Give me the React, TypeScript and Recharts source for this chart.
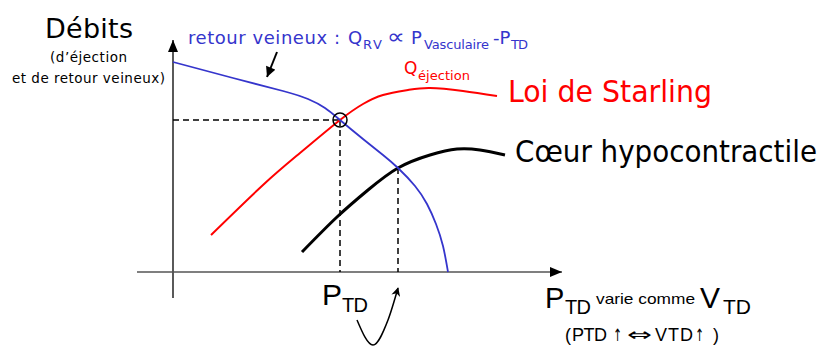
import React from 'react';
import { LineChart, Line, XAxis, YAxis, ReferenceDot } from 'recharts';

// Diagram coordinates: x = pressure (P_TD), y = flow (débit)
const venousReturn = [
  { x: 0, y: 210 }, { x: 60, y: 194 }, { x: 110, y: 181 }, { x: 135, y: 173 },
  { x: 152, y: 164 }, { x: 167, y: 152 }, { x: 190, y: 133 }, { x: 210, y: 117 },
  { x: 225, y: 104 }, { x: 242, y: 86 }, { x: 254, y: 68 }, { x: 263, y: 48 },
  { x: 270, y: 26 }, { x: 275, y: 0 },
];
const starlingNormal = [
  { x: 38, y: 37 }, { x: 90, y: 87 }, { x: 127, y: 119 }, { x: 167, y: 152 },
  { x: 190, y: 168 }, { x: 210, y: 177 }, { x: 235, y: 182 }, { x: 257, y: 184 },
  { x: 290, y: 181 }, { x: 324, y: 176 },
];
const hypocontractile = [
  { x: 129, y: 20 }, { x: 164, y: 55 }, { x: 195, y: 82 }, { x: 225, y: 104 },
  { x: 257, y: 117 }, { x: 284, y: 123 }, { x: 307, y: 122 }, { x: 332, y: 117 },
];
const yAxisLine = [{ x: 0, y: -26 }, { x: 0, y: 232 }];
const xAxisLine = [{ x: -36, y: 0 }, { x: 389, y: 0 }];
const eqDashH = [{ x: 0, y: 152 }, { x: 167, y: 152 }];
const eqDashV = [{ x: 167, y: 152 }, { x: 167, y: 0 }];
const newEqDashV = [{ x: 225, y: 104 }, { x: 225, y: 0 }];
const labelArrow = [{ x: 104, y: 220 }, { x: 94, y: 195 }];
const shiftArrow = [{ x: 184, y: -48 }, { x: 200, y: -73 }, { x: 215, y: -48 }, { x: 225, y: -16 }];
const equilibrium = { x: 167, y: 152 };

const BLUE = '#3535cc';
const RED = '#ff0000';

const W = 826;
const H = 347;

export default function App() {
  const noDot = { dot: false, activeDot: false, isAnimationActive: false } as const;
  return (
    <div style={{ position: 'absolute', left: 0, top: 0, width: W, height: H, background: '#fff' }}>
      <svg width={0} height={0} style={{ position: 'absolute' }}>
        <defs>
          <marker id="axArrow" viewBox="0 0 12 10" refX={12} refY={5} markerWidth={12} markerHeight={10} markerUnits="userSpaceOnUse" orient="auto">
            <path d="M0,0 L12,5 L0,10 z" fill="#000" />
          </marker>
          <marker id="smArrow" viewBox="0 0 10 10" refX={10} refY={5} markerWidth={11} markerHeight={10} markerUnits="userSpaceOnUse" orient="auto">
            <path d="M0,0 L10,5 L0,10 z" fill="#000" />
          </marker>
          <marker id="curvArrow" viewBox="0 0 10 10" refX={9} refY={5} markerWidth={9} markerHeight={9} markerUnits="userSpaceOnUse" orient="auto">
            <path d="M0,0 L10,5 L0,10 L3,5 z" fill="#000" />
          </marker>
        </defs>
      </svg>
      <LineChart width={W} height={H} margin={{ top: 0, right: 0, bottom: 0, left: 0 }}>
        <XAxis type="number" dataKey="x" domain={[-173, 653]} hide allowDataOverflow />
        <YAxis type="number" dataKey="y" domain={[-75, 272]} hide allowDataOverflow />
        <Line data={yAxisLine} dataKey="y" type="linear" stroke="#000" strokeWidth={1.3} markerEnd="url(#axArrow)" {...noDot} />
        <Line data={xAxisLine} dataKey="y" type="linear" stroke="#555" strokeWidth={1.5} markerEnd="url(#axArrow)" {...noDot} />
        <Line data={eqDashH} dataKey="y" type="linear" stroke="#000" strokeWidth={1.5} strokeDasharray="6 4" {...noDot} />
        <Line data={eqDashV} dataKey="y" type="linear" stroke="#000" strokeWidth={1.5} strokeDasharray="6 4" {...noDot} />
        <Line data={newEqDashV} dataKey="y" type="linear" stroke="#000" strokeWidth={1.5} strokeDasharray="6 4" {...noDot} />
        <Line data={starlingNormal} dataKey="y" type="natural" stroke={RED} strokeWidth={2} {...noDot} />
        <Line data={hypocontractile} dataKey="y" type="natural" stroke="#000" strokeWidth={3} {...noDot} />
        <Line data={venousReturn} dataKey="y" type="natural" stroke={BLUE} strokeWidth={1.8} {...noDot} />
        <Line data={labelArrow} dataKey="y" type="linear" stroke="#000" strokeWidth={2} markerEnd="url(#smArrow)" {...noDot} />
        <Line data={shiftArrow} dataKey="y" type="monotone" stroke="#000" strokeWidth={1.5} markerEnd="url(#curvArrow)" {...noDot} />
        <ReferenceDot x={equilibrium.x} y={equilibrium.y} r={7} fill="none" stroke="#000" strokeWidth={1.5} />
      </LineChart>
      <svg width={W} height={H} style={{ position: 'absolute', left: 0, top: 0, pointerEvents: 'none' }}>
        <g fontFamily="DejaVu Sans">
          <text x={45} y={38} fontSize={27} fill="#000" textLength={88}>Débits</text>
          <text x={88.5} y={62} fontSize={13.5} textAnchor="middle" fill="#000" textLength={77}>(d’éjection</text>
          <text x={88.5} y={83} fontSize={13.5} textAnchor="middle" fill="#000" textLength={153}>et de retour veineux)</text>
          <text fill={BLUE} fontSize={18}>
            <tspan x={188} y={44} textLength={152}>retour veineux :</tspan>
            <tspan x={348} y={44}>Q</tspan>
            <tspan x={363} y={49} fontSize={13} textLength={19}>RV</tspan>
            <tspan x={387} y={44} fontSize={22} textLength={18} lengthAdjust="spacingAndGlyphs">∝</tspan>
            <tspan x={411} y={44}>P</tspan>
            <tspan x={424} y={49} fontSize={13} textLength={65}>Vasculaire</tspan>
            <tspan x={493} y={44}>-P</tspan>
            <tspan x={511} y={49} fontSize={13} textLength={17}>TD</tspan>
          </text>
          <text fill={RED} fontSize={17}>
            <tspan x={404} y={74}>Q</tspan>
            <tspan x={418} y={80} fontSize={13} textLength={52}>éjection</tspan>
          </text>
        </g>
        <g fontFamily="'DejaVu Sans Condensed', 'DejaVu Sans'" style={{ fontStretch: 'condensed' }}>
          <text x={508} y={102} fontSize={31} fill={RED} textLength={204} lengthAdjust="spacingAndGlyphs">Loi de Starling</text>
          <text x={515} y={162} fontSize={31} fill="#000" textLength={302} lengthAdjust="spacingAndGlyphs">Cœur hypocontractile</text>
        </g>
        <g fontFamily="Liberation Sans" fill="#000">
          <text x={322} y={305} fontSize={30}>P</text>
          <text x={342} y={312} fontSize={20} textLength={26}>TD</text>
          <text x={545} y={308} fontSize={29}>P</text>
          <text x={565} y={314} fontSize={20} textLength={26}>TD</text>
          <text x={596} y={304} fontSize={15} textLength={99} lengthAdjust="spacingAndGlyphs">varie comme</text>
          <text x={700} y={308} fontSize={30}>V</text>
          <text x={723} y={314} fontSize={21}>TD</text>
          <text fontSize={18}>
            <tspan x={565} y={341}>(</tspan>
            <tspan x={572} y={341} textLength={35}>PTD</tspan>
            <tspan x={613} y={341} fontFamily="DejaVu Sans" fontSize={17} textLength={9} lengthAdjust="spacingAndGlyphs">↑</tspan>
            <tspan x={627} y={341} fontFamily="DejaVu Sans" fontSize={18} textLength={25} lengthAdjust="spacingAndGlyphs">⇔</tspan>
            <tspan x={655} y={341} textLength={38}>VTD</tspan>
            <tspan x={695} y={341} fontFamily="DejaVu Sans" fontSize={17} textLength={9} lengthAdjust="spacingAndGlyphs">↑</tspan>
            <tspan x={713} y={341}>)</tspan>
          </text>
        </g>
      </svg>
    </div>
  );
}
